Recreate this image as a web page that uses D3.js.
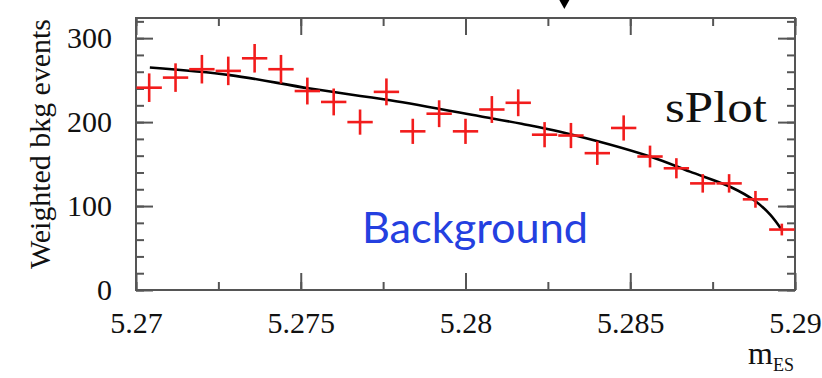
<!DOCTYPE html>
<html>
<head>
<meta charset="utf-8">
<script src="https://d3js.org/d3.v7.min.js"></script>
<style>
body { margin: 0; background: #fff; }
svg { display: block; }
.axis line { stroke: #555; stroke-width: 2; }
.axis path { display: none; }
</style>
</head>
<body>
<div id="plot"></div>
<script>

var width = 822;
var height = 378;
var margin = { top: 18, right: 27, bottom: 88, left: 136 };
var w = width - margin.left - margin.right;
var h = height - margin.top - margin.bottom;
var serif = "'Liberation Serif', 'Times New Roman', Times, serif";

// weighted background histogram (bin centres, contents, errors)
var binCenters = [5.2704, 5.2712, 5.2720, 5.2728, 5.2736, 5.2744, 5.2752, 5.2760, 5.2768, 5.2776,
                  5.2784, 5.2792, 5.2800, 5.2808, 5.2816, 5.2824, 5.2832, 5.2840, 5.2848, 5.2856,
                  5.2864, 5.2872, 5.2880, 5.2888, 5.2896];
var binValues = [241, 253, 263, 261, 276, 263, 237, 224, 200, 236,
                 189, 210, 189, 215, 223, 185, 184, 163, 193, 159,
                 145, 127, 127, 108, 72];
var binErrors = [17, 17, 17, 17, 17, 17, 16, 16, 15, 16,
                 15, 16, 15, 16, 16, 15, 15, 14, 15, 13,
                 12, 11, 11, 10, 7];
var binWidth = 0.0008;

// fitted curve
var curveX = [5.27042, 5.27285, 5.27528, 5.27771, 5.28044, 5.28170, 5.28287, 5.28560, 5.28681, 5.28803, 5.28879, 5.28924, 5.28961];
var curveY = [265, 256, 240, 226, 207, 198, 188.5, 159, 141, 123, 106, 90, 71];

var xTicks = [5.27, 5.275, 5.28, 5.285, 5.29];
var xTickLabels = ["5.27", "5.275", "5.28", "5.285", "5.29"];
var yTicks = [0, 100, 200, 300];

var xScale = d3.scaleLinear().domain([5.27, 5.29]).range([0, w]);
var yScale = d3.scaleLinear().domain([0, 324]).range([h, 0]);

var xMinor = d3.range(5.27, 5.2901, 0.0025);
var yMinor = d3.range(0, 321, 20);

var svg = d3.select("#plot").append("svg")
  .attr("width", width).attr("height", height);
var g = svg.append("g").attr("transform", "translate(" + margin.left + "," + margin.top + ")");

// minor ticks, all four sides (no labels)
g.append("g").attr("class", "axis").attr("transform", "translate(0," + h + ")")
  .call(d3.axisBottom(xScale).tickValues(xMinor).tickSize(-8).tickFormat(""));
g.append("g").attr("class", "axis")
  .call(d3.axisTop(xScale).tickValues(xMinor).tickSize(-8).tickFormat(""));
g.append("g").attr("class", "axis")
  .call(d3.axisLeft(yScale).tickValues(yMinor).tickSize(-8).tickFormat(""));
g.append("g").attr("class", "axis").attr("transform", "translate(" + w + ",0)")
  .call(d3.axisRight(yScale).tickValues(yMinor).tickSize(-8).tickFormat(""));

// major ticks
var xAxisG = g.append("g").attr("class", "axis").attr("transform", "translate(0," + h + ")")
  .call(d3.axisBottom(xScale).tickValues(xTicks).tickSize(-17).tickPadding(22)
    .tickFormat(function (d, i) { return xTickLabels[i]; }));
g.append("g").attr("class", "axis")
  .call(d3.axisTop(xScale).tickValues(xTicks).tickSize(-17).tickFormat(""));
var yAxisG = g.append("g").attr("class", "axis")
  .call(d3.axisLeft(yScale).tickValues(yTicks).tickSize(-17).tickPadding(24));
g.append("g").attr("class", "axis").attr("transform", "translate(" + w + ",0)")
  .call(d3.axisRight(yScale).tickValues(yTicks).tickSize(-17).tickFormat(""));

[xAxisG, yAxisG].forEach(function (a) {
  a.attr("font-family", null).attr("font-size", null);
  a.selectAll("text").style("font-family", serif).style("font-size", "30px").style("fill", "#111");
});

// frame
g.append("rect").attr("x", 0).attr("y", 0).attr("width", w).attr("height", h)
  .style("fill", "none").style("stroke", "#555").style("stroke-width", 2);

// fitted curve
var curvePts = curveX.map(function (d, i) { return [d, curveY[i]]; });
g.append("path").datum(curvePts)
  .attr("d", d3.line().x(function (d) { return xScale(d[0]); }).y(function (d) { return yScale(d[1]); })
    .curve(d3.curveCatmullRom.alpha(0.5)))
  .style("fill", "none").style("stroke", "#000").style("stroke-width", 2.6);

// data crosses
var pts = binCenters.map(function (d, i) { return { x: d, y: binValues[i], e: binErrors[i] }; });
var cross = g.selectAll("g.pt").data(pts).enter().append("g").attr("class", "pt");
cross.append("line")
  .attr("x1", function (d) { return xScale(d.x - binWidth / 2) + 0.5; })
  .attr("x2", function (d) { return xScale(d.x + binWidth / 2) - 0.5; })
  .attr("y1", function (d) { return yScale(d.y); })
  .attr("y2", function (d) { return yScale(d.y); });
cross.append("line")
  .attr("x1", function (d) { return xScale(d.x); })
  .attr("x2", function (d) { return xScale(d.x); })
  .attr("y1", function (d) { return yScale(d.y - d.e); })
  .attr("y2", function (d) { return yScale(d.y + d.e); });
cross.selectAll("line").style("stroke", "#f21c1c").style("stroke-width", 2.6);

// labels
svg.append("text")
  .attr("transform", "translate(50," + (margin.top + 126) + ") rotate(-90)")
  .attr("text-anchor", "middle")
  .attr("textLength", 250).attr("lengthAdjust", "spacingAndGlyphs")
  .style("font-family", serif).style("font-size", "30px").style("fill", "#111")
  .text("Weighted bkg events");

var xl = svg.append("text")
  .attr("x", 748).attr("y", 364)
  .style("font-family", serif).style("font-size", "32px").style("fill", "#111");
xl.append("tspan").text("m");
xl.append("tspan").attr("dy", 7).style("font-size", "18px").text("ES");

svg.append("text").attr("x", 665).attr("y", 122)
  .attr("textLength", 102).attr("lengthAdjust", "spacingAndGlyphs")
  .style("font-family", serif).style("font-size", "44px").style("fill", "#111")
  .text("sPlot");

svg.append("text").attr("x", 362).attr("y", 243)
  .attr("textLength", 226).attr("lengthAdjust", "spacingAndGlyphs")
  .style("font-family", "Lato, sans-serif").style("font-size", "43px").style("fill", "#2440e0")
  .text("Background");

// arrow head from the slide, pointing down at the plot
var ax = margin.left + xScale(5.283);
svg.append("path")
  .attr("d", "M" + (ax - 5) + ",0 L" + (ax + 5) + ",0 L" + ax + ",9 Z")
  .style("fill", "#000");

</script>
</body>
</html>
